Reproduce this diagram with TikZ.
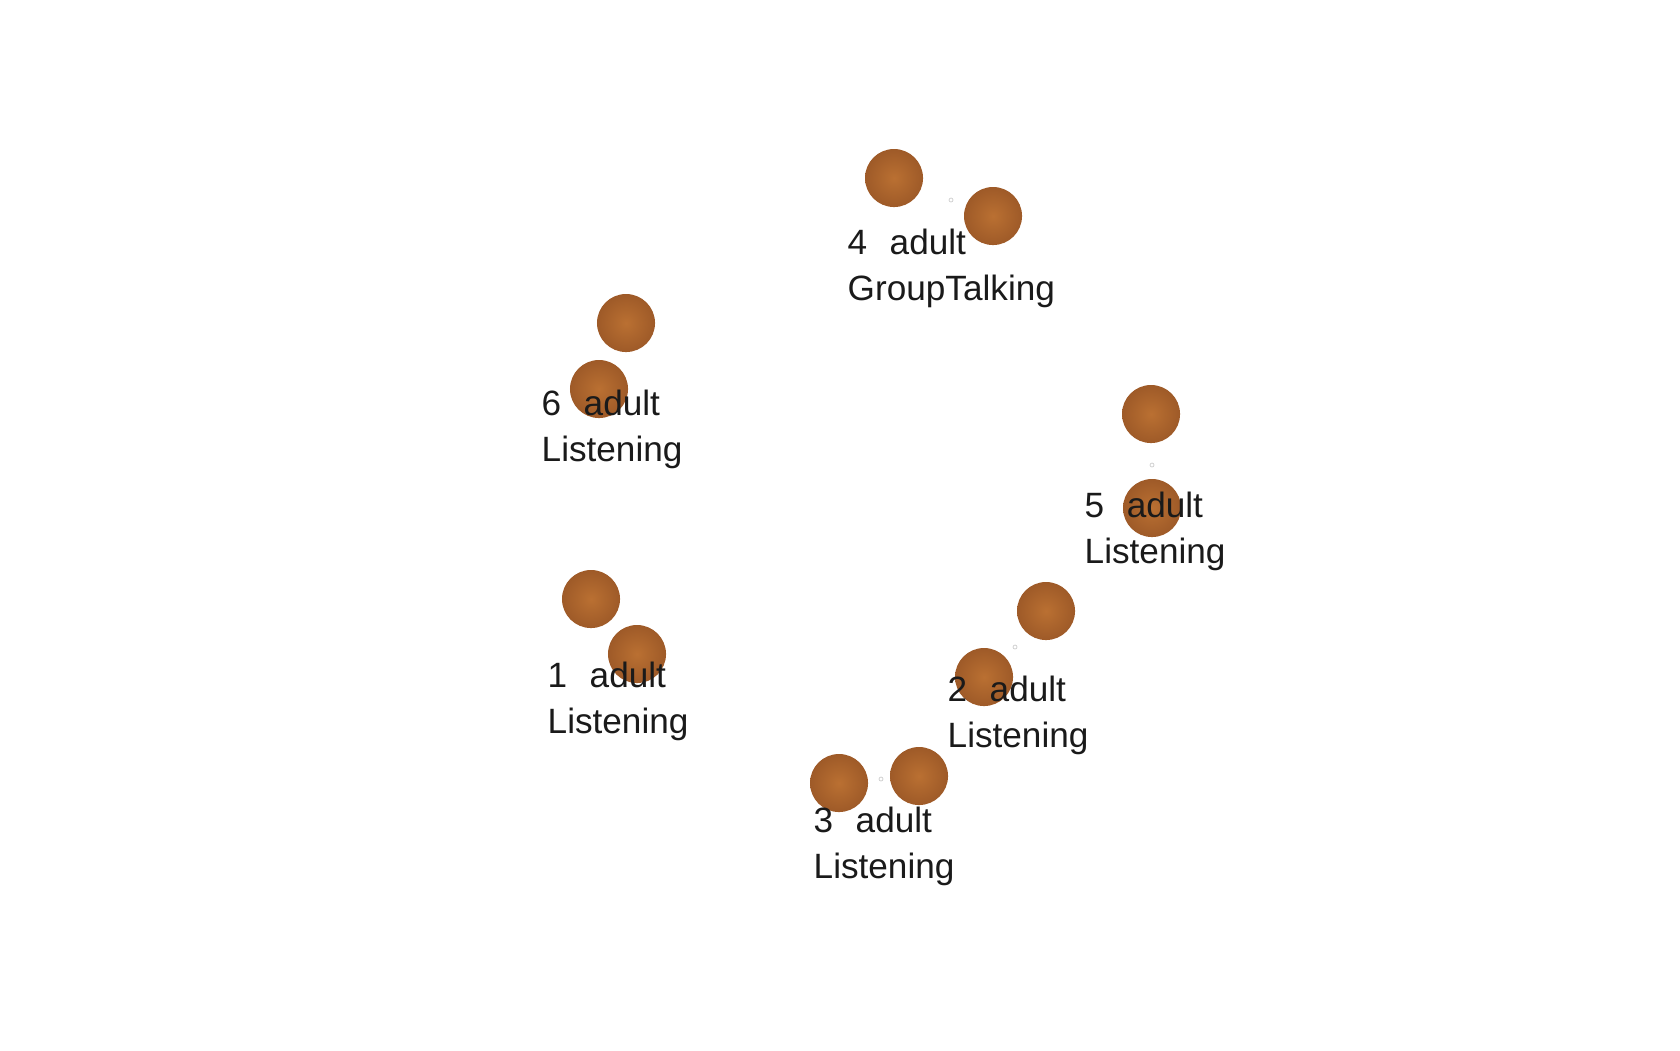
\documentclass[tikz,border=0pt]{standalone}
\usepackage{fontspec}
\setmainfont{Liberation Sans}
\usetikzlibrary{positioning}

\definecolor{ballin}{RGB}{186,112,50}
\definecolor{ballout}{RGB}{158,90,40}
\definecolor{labeltext}{RGB}{26,26,26}

\begin{document}
\begin{tikzpicture}[
    x=0.01cm, y=-0.01cm,
    person/.style={circle, inner sep=0pt, minimum size=0.58cm, inner color=ballin, outer color=ballout},
    mid/.style={circle, draw=black!20, line width=0.2pt, inner sep=0pt, minimum size=0.04cm},
    tag/.style={anchor=base west, align=left, inner sep=0pt, text=labeltext,
                font=\fontsize{10}{12.95}\selectfont}
]
\useasboundingbox (0,0) rectangle (1680,1050);

% Pair 4
\node[person] (p4a) at (894, 178) {};
\node[person] (p4b) at (993, 216) {};
\node[mid] (m4) at (951, 200) {};

% Pair 6
\node[person] (p6a) at (626, 323) {};
\node[person] (p6b) at (599, 389) {};

% Pair 5
\node[person] (p5a) at (1151, 414) {};
\node[person] (p5b) at (1152, 508) {};
\node[mid] (m5) at (1152, 465) {};

% Pair 1
\node[person] (p1a) at (591, 599) {};
\node[person] (p1b) at (637, 654) {};

% Pair 2
\node[person] (p2a) at (1046, 611) {};
\node[person] (p2b) at (984, 677) {};
\node[mid] (m2) at (1015, 647) {};

% Pair 3
\node[person] (p3a) at (839, 783) {};
\node[person] (p3b) at (919, 776) {};
\node[mid] (m3) at (881, 779) {};

% labels (base = last line)
\node[tag] (l4) at (847, 300) {4\hspace{0.64em}adult\\GroupTalking};
\node[tag] (l6) at (541, 461) {6\hspace{0.64em}adult\\Listening};
\node[tag] (l5) at (1084, 563) {5\hspace{0.64em}adult\\Listening};
\node[tag] (l1) at (547, 733) {1\hspace{0.64em}adult\\Listening};
\node[tag] (l2) at (947, 747) {2\hspace{0.64em}adult\\Listening};
\node[tag] (l3) at (813, 878) {3\hspace{0.64em}adult\\Listening};

\end{tikzpicture}
\end{document}
